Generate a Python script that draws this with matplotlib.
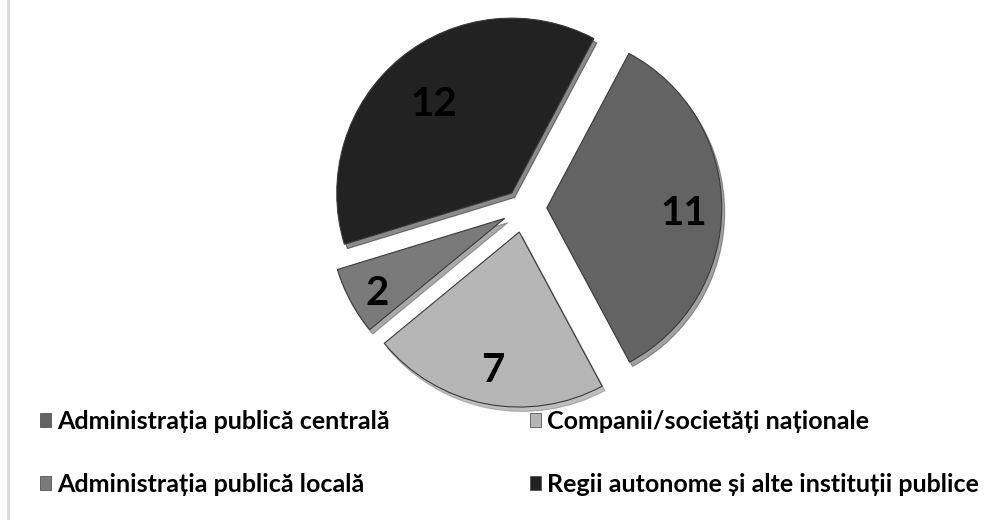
import matplotlib
matplotlib.use("Agg")
import matplotlib.pyplot as plt
import numpy as np
from matplotlib.patches import Patch

plt.rcParams['font.family'] = ['Lato', 'DejaVu Sans']

# data
categories = ['Administrația publică centrală', 'Companii/societăți naționale',
              'Administrația publică locală', 'Regii autonome și alte instituții publice']
values = [11, 7, 2, 12]
colors = ['#636363', '#b6b6b6', '#7a7a7a', '#222222']
explode = [0.13, 0.14, 0.125, 0.11]
label_dist = [0.78, 0.77, 0.83, 0.70]

fig = plt.figure(figsize=(10, 5.2), dpi=100)
ax = fig.add_axes([0, 0, 1, 1])

# pie radius 175 px, centre at (524, 208) px from top-left
rpx = 175.0
cx, cy = 524.0, 520 - 208.0

wedges, _ = ax.pie(values, colors=colors, explode=explode, startangle=62,
                   counterclock=False, radius=1,
                   wedgeprops=dict(edgecolor='#3a3a3a', linewidth=0.8),
                   shadow={'ox': 0.012, 'oy': -0.018, 'shade': 0.3})

ax.set_xlim(-cx / rpx, (1000 - cx) / rpx)
ax.set_ylim(-cy / rpx, (520 - cy) / rpx)
ax.set_aspect('auto')
ax.axis('off')

# value labels inside slices
for w, v, d in zip(wedges, values, label_dist):
    mid = np.deg2rad((w.theta1 + w.theta2) / 2)
    x = w.center[0] + d * w.r * np.cos(mid)
    y = w.center[1] + d * w.r * np.sin(mid) - 6 / rpx
    ax.text(x, y, str(v), ha='center', va='center', fontsize=29,
            fontweight='bold', color='black')

# left border line
fig.add_artist(plt.Line2D([0.008, 0.008], [0, 1], color='#d9d9d9', linewidth=2,
                          transform=fig.transFigure))

handles = [Patch(facecolor=c, edgecolor='#555555', linewidth=0.6) for c in colors]
order = [0, 2, 1, 3]
fig.legend([handles[i] for i in order], [categories[i] for i in order],
           ncol=2, loc='upper left', bbox_to_anchor=(0.027, 0.236),
           frameon=False, prop={'weight': 'bold', 'size': 18},
           handlelength=0.45, handleheight=0.45, handletextpad=0.25,
           labelspacing=1.6, columnspacing=5.6, borderpad=0)

fig.savefig('out.png', dpi=100, facecolor='white')
